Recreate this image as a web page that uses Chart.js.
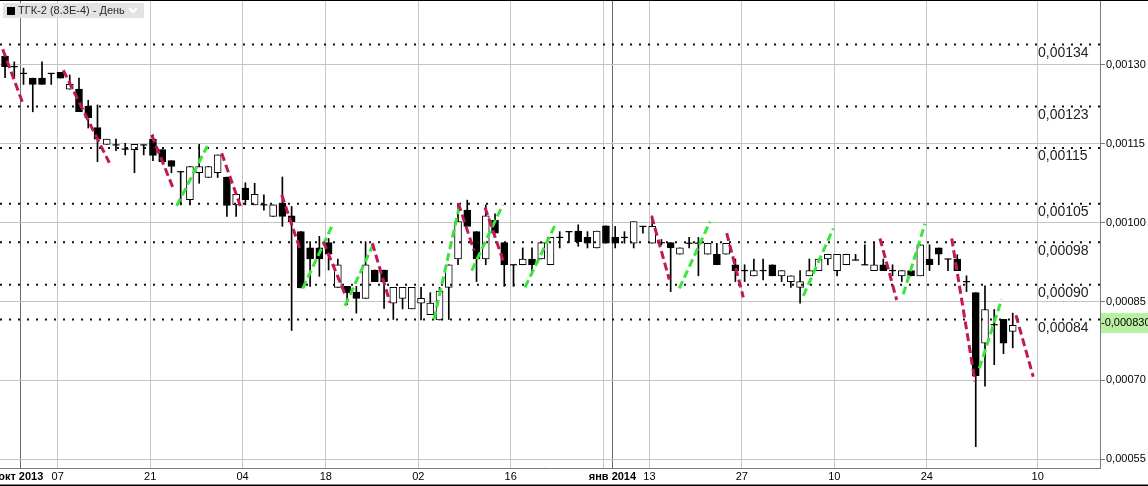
<!DOCTYPE html>
<html><head><meta charset="utf-8">
<script src="https://cdn.jsdelivr.net/npm/chart.js@4.4.1/dist/chart.umd.min.js"></script>
<style>html,body{margin:0;padding:0;background:#fff;}#wrap{position:relative;width:1148px;height:486px;}</style>
</head><body><div id="wrap"><canvas id="c"></canvas></div>
<script>
const chartTitle = 'ТГК-2 (8.3E-4) - День';
const firstSlot = -6; // slot index of first candle (slot 0 = 07 Oct 2013)
const opens = [
0.001317,0.001297,0.001284,0.001275,0.001275,0.001284,
0.001286,0.001254,0.001254,0.001222,0.001181,0.001149,0.001148,0.001140,0.001139,0.001148,
0.001159,0.001139,0.001118,0.001097,0.001044,0.001095,0.001086,0.001095,0.001087,0.001034,
0.001066,0.001034,0.001034,0.001012,0.001037,0.001013,0.000983,0.000952,0.000952,0.000962,
0.000877,0.000879,0.000868,0.000856,0.000910,0.000910,0.000847,0.000856,0.000836,0.000847,
0.000825,0.000815,0.000877,0.000931,0.001024,0.000983,0.000931,0.001005,0.000962,0.000920,
0.000920,0.000931,0.000931,0.000920,0.000972,0.000983,0.000984,0.000972,0.000952,0.000994,
0.000972,0.000972,0.000961,0.000993,0.000961,0.000962,0.000962,0.000940,0.000961,0.000961,
0.000940,0.000940,0.000940,0.000920,0.000909,0.000899,0.000909,0.000920,0.000899,0.000888,
0.000877,0.000899,0.000909,0.000931,0.000909,0.000920,0.000929,0.000920,0.000909,0.000920,
0.000909,0.000899,0.000909,0.000899,0.000931,0.000952,0.000931,0.000931,0.000888,0.000867,
0.000771,0.000806,0.000816,0.000793];
const highs = [
0.001319,0.001306,0.001294,0.001275,0.001306,0.001284,
0.001286,0.001281,0.001275,0.001233,0.001224,0.001159,0.001159,0.001151,0.001149,0.001148,
0.001167,0.001139,0.001118,0.001097,0.001107,0.001149,0.001107,0.001129,0.001087,0.001054,
0.001076,0.001075,0.001053,0.001034,0.001087,0.001031,0.000983,0.000964,0.000974,0.000970,
0.000931,0.000879,0.000879,0.000964,0.000910,0.000910,0.000877,0.000877,0.000877,0.000877,
0.000867,0.000877,0.000920,0.001037,0.001043,0.000983,0.001034,0.001017,0.000962,0.000920,
0.000952,0.000952,0.000962,0.000972,0.000983,0.000983,0.000996,0.000983,0.000984,0.000994,
0.000993,0.000983,0.001002,0.000993,0.001013,0.000968,0.000962,0.000952,0.000972,0.000972,
0.000961,0.000961,0.000961,0.000931,0.000920,0.000931,0.000931,0.000920,0.000909,0.000899,
0.000909,0.000931,0.000931,0.000940,0.000940,0.000940,0.000940,0.000958,0.000962,0.000931,
0.000920,0.000909,0.000909,0.000958,0.000958,0.000952,0.000931,0.000939,0.000899,0.000867,
0.000880,0.000835,0.000816,0.000828];
const lows = [
0.001276,0.001275,0.001263,0.001211,0.001263,0.001263,
0.001275,0.001254,0.001211,0.001180,0.001116,0.001149,0.001137,0.001129,0.001095,0.001129,
0.001118,0.001116,0.001095,0.001034,0.001034,0.001075,0.001086,0.001086,0.001012,0.001012,
0.001034,0.001034,0.001024,0.001012,0.000993,0.000795,0.000876,0.000879,0.000898,0.000910,
0.000877,0.000844,0.000828,0.000856,0.000888,0.000837,0.000816,0.000836,0.000836,0.000815,
0.000825,0.000815,0.000816,0.000920,0.000993,0.000888,0.000920,0.000980,0.000879,0.000879,
0.000920,0.000904,0.000931,0.000920,0.000952,0.000962,0.000955,0.000952,0.000952,0.000961,
0.000952,0.000961,0.000952,0.000980,0.000961,0.000958,0.000869,0.000940,0.000952,0.000899,
0.000940,0.000920,0.000940,0.000888,0.000888,0.000899,0.000891,0.000899,0.000888,0.000877,
0.000847,0.000899,0.000909,0.000920,0.000899,0.000920,0.000929,0.000920,0.000909,0.000909,
0.000899,0.000888,0.000899,0.000899,0.000909,0.000920,0.000909,0.000909,0.000869,0.000574,
0.000689,0.000730,0.000751,0.000762];
const closes = [
0.001297,0.001297,0.001284,0.001263,0.001263,0.001284,
0.001275,0.001263,0.001211,0.001200,0.001159,0.001159,0.001148,0.001140,0.001149,0.001148,
0.001128,0.001116,0.001107,0.001097,0.001107,0.001107,0.001107,0.001129,0.001033,0.001054,
0.001044,0.001054,0.001034,0.001034,0.001012,0.001002,0.000876,0.000931,0.000931,0.000940,
0.000920,0.000867,0.000856,0.000920,0.000888,0.000888,0.000877,0.000877,0.000877,0.000856,
0.000847,0.000870,0.000920,0.001002,0.000993,0.000931,0.001013,0.000980,0.000920,0.000920,
0.000931,0.000920,0.000962,0.000972,0.000972,0.000983,0.000964,0.000961,0.000984,0.000961,
0.000961,0.000972,0.001002,0.000993,0.000993,0.000962,0.000952,0.000952,0.000961,0.000961,
0.000961,0.000920,0.000961,0.000909,0.000909,0.000909,0.000909,0.000899,0.000909,0.000899,
0.000888,0.000909,0.000931,0.000940,0.000940,0.000940,0.000929,0.000920,0.000920,0.000909,
0.000909,0.000909,0.000899,0.000958,0.000920,0.000940,0.000931,0.000909,0.000888,0.000709,
0.000835,0.000806,0.000771,0.000805];

// trend segments: [slotFrom, priceFrom, slotTo, priceTo]
const redLines = [
[-6.25,0.001330,-4.09,0.001228],[0.30,0.001290,5.28,0.001114],[9.86,0.001167,12.20,0.001065],
[17.44,0.001132,19.49,0.001030],[23.93,0.001053,25.98,0.000946],[28.43,0.000964,30.85,0.000861],
[33.73,0.000961,35.64,0.000848],[43.03,0.001037,44.73,0.000947],[45.92,0.001029,47.97,0.000923],
[63.95,0.001012,65.85,0.000892],[72.06,0.000980,73.86,0.000858],[88.64,0.000970,90.45,0.000853],
[96.40,0.000970,98.92,0.000698],[103.35,0.000824,105.22,0.000707]];
const greenLines = [
[12.57,0.001032,15.88,0.001146],[26.20,0.000875,29.51,0.000999],[30.77,0.000842,34.02,0.000966],
[40.40,0.000816,43.21,0.001036],[44.48,0.000909,47.83,0.001034],[50.24,0.000877,53.60,0.000999],
[66.93,0.000875,70.26,0.001002],[80.35,0.000861,83.59,0.000989],[91.16,0.000864,93.51,0.000998],
[99.38,0.000723,101.80,0.000854]];

const levelValues = [0.001339,0.001221,0.001142,0.001036,0.000963,0.000882,0.000816];
const levelLabels = ['0,00134','0,00123','0,00115','0,00105','0,00098','0,00090','0,00084'];

const tickSlots  = [-4, 0, 10, 20, 29, 39, 49, 59, 60, 64, 74, 84, 94, 106];
const tickLabels = ['окт 2013','07','21','04','18','02','16','','янв 2014','13','27','10','24','10'];
const yTicks = [0.00055, 0.00070, 0.00085, 0.00100, 0.00115, 0.00130];
const xRange = [-6.544, 112.44];
const yRange = [0.00053343, 0.00142364];
const currentPrice = 0.00083;
const currentPriceLabel = '-0,000830';

const FONT = '"Liberation Sans", Arial, sans-serif';
const NARROW = '"Liberation Sans Narrow", "Liberation Sans", Arial, sans-serif';

const wickData = [], bodyData = [], dojiData = [];
for (let i = 0; i < opens.length; i++) {
  const x = firstSlot + i;
  wickData.push({x, y: [lows[i], highs[i]]});
  if (opens[i] === closes[i]) dojiData.push({x, y: opens[i]});
  else bodyData.push({x, y: [opens[i], closes[i]]});
}

const datasets = [];
redLines.forEach(s => datasets.push({type:'line', order:1, data:[{x:s[0],y:s[1]},{x:s[2],y:s[3]}],
  borderColor:'#c2185b', borderWidth:3, borderDash:[8,4], pointRadius:0, tension:0}));
greenLines.forEach(s => datasets.push({type:'line', order:1, data:[{x:s[0],y:s[1]},{x:s[2],y:s[3]}],
  borderColor:'#3be53b', borderWidth:3, borderDash:[8,4], pointRadius:0, tension:0}));
levelValues.forEach(v => datasets.push({type:'line', order:2, data:[{x:xRange[0],y:v},{x:xRange[1],y:v}],
  borderColor:'#111', borderWidth:2, borderDash:[2,7], pointRadius:0}));
datasets.push({type:'line', order:3, data:dojiData, showLine:false, pointStyle:'line',
  pointRadius:3.5, pointBorderWidth:1.2, pointBorderColor:'#000', pointBackgroundColor:'#000'});
datasets.push({type:'bar', order:4, data:bodyData, grouped:false, barThickness:7,
  borderWidth:1, borderColor:'#000', borderSkipped:false,
  backgroundColor: ctx => (ctx.raw && ctx.raw.y[1] < ctx.raw.y[0]) ? '#000' : '#fff'});
datasets.push({type:'bar', order:5, data:wickData, grouped:false, barThickness:1,
  backgroundColor:'#000', borderWidth:0});

const isMajor = i => (tickLabels[i] || '').indexOf(' ') >= 0;

const decor = {
  id: 'decor',
  beforeDraw(chart) {
    const c = chart.ctx; c.save(); c.fillStyle = '#fff'; c.fillRect(0, 0, chart.width, chart.height); c.restore();
  },
  afterDatasetsDraw(chart) {
    const {ctx, scales: {y}, chartArea} = chart;
    ctx.save();
    ctx.font = '14px ' + FONT;
    ctx.fillStyle = '#222';
    ctx.textBaseline = 'top';
    ctx.textAlign = 'left';
    levelValues.forEach((v, i) => {
      ctx.fillText(levelLabels[i], chartArea.right - 62, y.getPixelForValue(v) + 1.5);
    });
    ctx.restore();
  },
  afterDraw(chart) {
    const {ctx, scales: {y}, chartArea} = chart;
    ctx.save();
    const py = y.getPixelForValue(currentPrice);
    ctx.fillStyle = '#b9f1a2';
    ctx.fillRect(chartArea.right + 1, py + 1, chart.width - chartArea.right - 1, 20);
    ctx.fillStyle = '#000';
    ctx.font = '11px ' + FONT;
    ctx.textBaseline = 'middle';
    ctx.textAlign = 'left';
    ctx.fillText(currentPriceLabel, chartArea.right + 1, py + 11);
    ctx.fillStyle = '#e3e3e3';
    ctx.fillRect(3, 3, 141, 15);
    ctx.fillStyle = '#000';
    ctx.fillRect(7, 7, 8, 8);
    ctx.fillStyle = '#2a2a2a';
    ctx.font = '11px ' + FONT;
    ctx.fillText(chartTitle, 18, 11);
    ctx.strokeStyle = '#fff'; ctx.lineWidth = 2;
    ctx.beginPath(); ctx.moveTo(129, 8); ctx.lineTo(133, 12); ctx.lineTo(137, 8); ctx.stroke();
    ctx.strokeStyle = '#000'; ctx.lineWidth = 1;
    ctx.beginPath(); ctx.moveTo(0, 0.5); ctx.lineTo(chart.width, 0.5); ctx.stroke();
    ctx.lineWidth = 1.5;
    ctx.beginPath(); ctx.moveTo(0, 485.25); ctx.lineTo(chart.width, 485.25); ctx.stroke();
    ctx.restore();
  }
};

new Chart(document.getElementById('c'), {
  type: 'bar',
  data: { datasets },
  options: {
    responsive: true, maintainAspectRatio: false, devicePixelRatio: 1, animation: false,
    layout: { padding: 0, autoPadding: false },
    plugins: { legend: { display: false }, tooltip: { enabled: false } },
    scales: {
      x: {
        type: 'linear', min: xRange[0], max: xRange[1], offset: false, bounds: 'data',
        afterBuildTicks: s => { s.ticks = tickSlots.map(v => ({value: v - 0.3})); },
        afterFit: s => { s.height = 18; s.paddingLeft = 0; s.paddingRight = 0; },
        ticks: {
          autoSkip: false, maxRotation: 0, minRotation: 0, padding: 2, color: '#000',
          callback: (v, i) => tickLabels[i],
          font: ctx => ({ family: isMajor(ctx.index) ? FONT : NARROW, size: 11, weight: isMajor(ctx.index) ? 'bold' : 'normal' })
        },
        grid: { offset: false, drawTicks: false, lineWidth: 1,
          color: ctx => isMajor(ctx.index) ? '#6a6a6a' : '#c6c6c6' },
        border: { display: true, color: '#7a7a7a' }
      },
      y: {
        type: 'linear', position: 'right', min: yRange[0], max: yRange[1], bounds: 'data',
        afterBuildTicks: s => { s.ticks = yTicks.map(v => ({value: v})); },
        afterFit: s => { s.width = 48; s.paddingTop = 0; s.paddingBottom = 0; },
        ticks: { padding: 1, color: '#000', font: { family: FONT, size: 11 },
          callback: v => v.toFixed(5).replace('.', ',') },
        grid: { color: '#c4c4c4', lineWidth: 1, drawTicks: true, tickLength: 5, tickColor: '#7a7a7a' },
        border: { display: true, color: '#7a7a7a' }
      }
    }
  },
  plugins: [decor]
});
</script></body></html>
